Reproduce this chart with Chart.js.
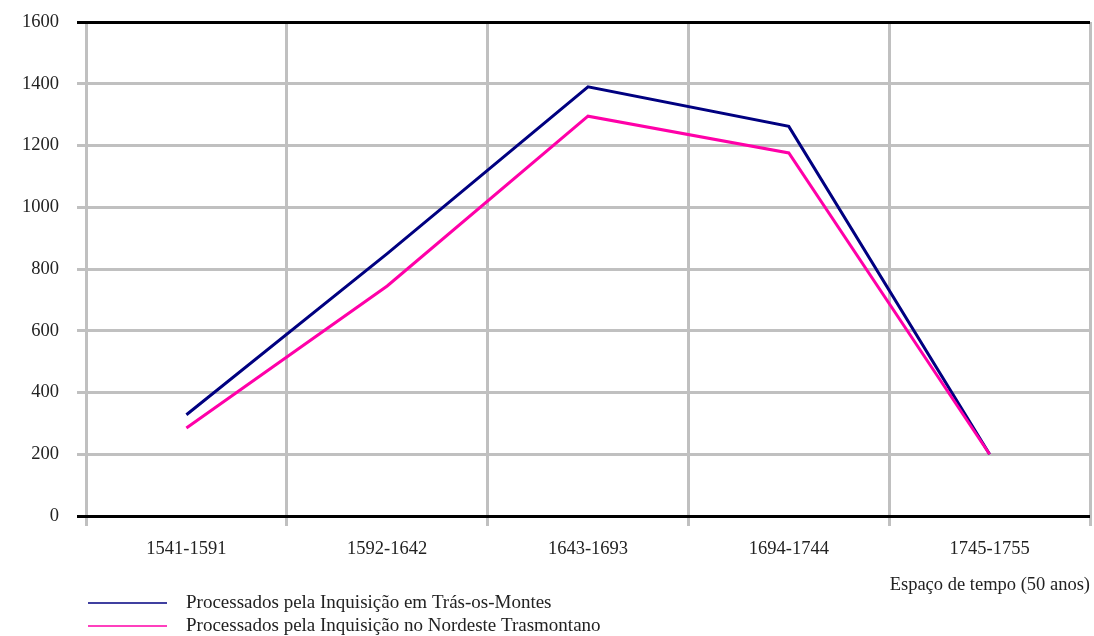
<!DOCTYPE html>
<html>
<head>
<meta charset="utf-8">
<script src="https://cdn.jsdelivr.net/npm/chart.js@4.4.1/dist/chart.umd.min.js"></script>
<style>
  html, body { margin: 0; padding: 0; background: #ffffff; }
  #wrap { width: 1094px; height: 636px; }
</style>
</head>
<body>
<div id="wrap"><canvas id="chart" width="1094" height="636"></canvas></div>
<script>
// Periods of 50 years
const periods = ['1541-1591', '1592-1642', '1643-1693', '1694-1744', '1745-1755'];
// Number of people tried by the Inquisition
const trasOsMontes = [328, 850, 1390, 1262, 200];
const nordesteTrasmontano = [285, 745, 1295, 1176, 200];
const seriesLabels = [
  'Processados pela Inquisição em Trás-os-Montes',
  'Processados pela Inquisição no Nordeste Trasmontano'
];
const yTicks = { min: 0, max: 1600, step: 200 };
const xTitle = 'Espaço de tempo (50 anos)';

const FONT = "'Liberation Serif', 'DejaVu Serif', serif";
const FONT_SIZE = 18.5;
const LEGEND_SIZE = 19;
const GRID = '#c0c0c0';

// Draws the legend as a line sample followed by the series label
const legendBelow = {
  id: 'legendBelow',
  afterDraw(chart) {
    const ctx = chart.ctx;
    ctx.save();
    chart.data.datasets.forEach((ds, i) => {
      const y = 603 + i * 23;
      ctx.strokeStyle = ds.borderColor;
      ctx.lineWidth = 1.5;
      ctx.beginPath();
      ctx.moveTo(88, y);
      ctx.lineTo(167, y);
      ctx.stroke();
      ctx.fillStyle = '#222';
      ctx.font = LEGEND_SIZE + 'px ' + FONT;
      ctx.textBaseline = 'middle';
      ctx.textAlign = 'left';
      ctx.fillText(ds.label, 186, y);
    });
    ctx.restore();
  }
};

new Chart(document.getElementById('chart'), {
  type: 'line',
  data: {
    labels: periods,
    datasets: [
      { label: seriesLabels[0], data: trasOsMontes, borderColor: '#000080', borderWidth: 3, pointRadius: 0, tension: 0, fill: false, order: 1 },
      { label: seriesLabels[1], data: nordesteTrasmontano, borderColor: '#ff00a8', borderWidth: 3, pointRadius: 0, tension: 0, fill: false, order: 0 }
    ]
  },
  options: {
    responsive: false,
    animation: false,
    layout: { padding: { left: 0, right: 4, top: 0, bottom: 0 } },
    plugins: { legend: { display: false }, tooltip: { enabled: false } },
    scales: {
      x: {
        offset: true,
        grid: { offset: true, color: GRID, lineWidth: 3, tickLength: 10, drawOnChartArea: true },
        border: { display: false },
        ticks: { color: '#222', font: { family: FONT, size: FONT_SIZE }, padding: 12, maxRotation: 0 },
        title: { display: true, text: xTitle, align: 'end', color: '#222', font: { family: FONT, size: FONT_SIZE }, padding: { top: 0, bottom: 40 } },
        afterFit(scale) { scale.height = 120; }
      },
      y: {
        min: yTicks.min,
        max: yTicks.max,
        ticks: { stepSize: yTicks.step, color: '#222', font: { family: FONT, size: FONT_SIZE }, padding: 18,
                 callback: (v) => String(v) },
        grid: {
          color: (c) => (c.tick && (c.tick.value === yTicks.max || c.tick.value === yTicks.min)) ? '#000000' : GRID,
          lineWidth: 3,
          tickLength: 9
        },
        border: { display: false },
        afterFit(scale) { scale.width = 86; scale.paddingTop = 22; scale.paddingBottom = 0; }
      }
    }
  },
  plugins: [legendBelow]
});
</script>
</body>
</html>
